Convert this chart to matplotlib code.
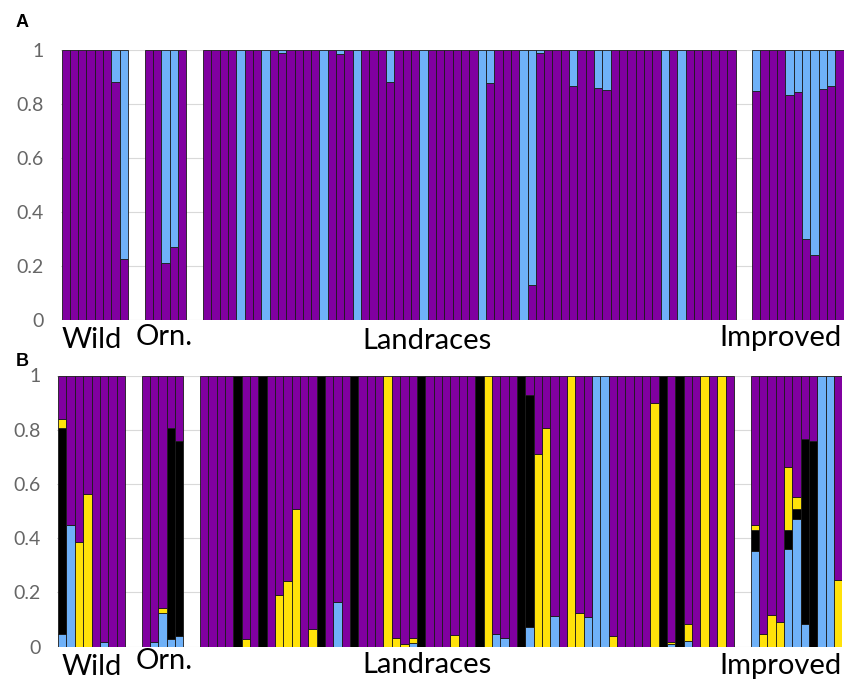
import matplotlib
matplotlib.use("Agg")
import matplotlib.pyplot as plt
import numpy as np

# groups of accessions, in plotting order
groups = ["Wild", "Orn.", "Landraces", "Improved"]

# panel A (K=2): light-blue share per accession, purple is the rest
a_blue_wild = [0, 0, 0, 0, 0, 0, 0.12, 0.775]
a_blue_orn = [0, 0, 0.788, 0.73, 0]
a_blue_land = [0, 0, 0, 0, 1, 0, 0, 1,
               0, 0.01, 0, 0, 0, 0, 1, 0,
               0.015, 0, 1, 0, 0, 0, 0.12, 0,
               0, 0, 1, 0, 0, 0, 0, 0,
               0, 1, 0.123, 0, 0, 0, 1, 0.87,
               0.01, 0, 0, 0, 0.133, 0, 0, 0.142,
               0.147, 0, 0, 0, 0, 0, 0, 1,
               0, 1, 0, 0, 0, 0, 0, 0]
a_blue_impr = [0.152, 0, 0, 0, 0.168, 0.154, 0.70, 0.76, 0.144, 0.135, 0]

# panel B (K=4): blue, black, yellow shares, purple is the rest
b_blue_wild = [0.045, 0.45, 0, 0, 0, 0.016, 0, 0]
b_black_wild = [0.762, 0, 0, 0, 0, 0, 0, 0]
b_yellow_wild = [0.032, 0, 0.385, 0.564, 0, 0, 0, 0]

b_blue_orn = [0, 0.016, 0.125, 0.027, 0.039]
b_black_orn = [0, 0, 0, 0.778, 0.718]
b_yellow_orn = [0, 0, 0.019, 0, 0]

b_blue_land = [0, 0, 0, 0, 0, 0, 0, 0,
               0, 0, 0, 0, 0, 0, 0, 0,
               0.166, 0, 0, 0, 0, 0, 0, 0,
               0, 0.015, 0, 0, 0, 0, 0, 0,
               0, 0, 0, 0.045, 0.031, 0, 0, 0.074,
               0, 0, 0.114, 0, 0, 0, 0.108, 1,
               1, 0, 0, 0, 0, 0, 0, 0,
               0.009, 0, 0.021, 0, 0, 0, 0, 0]
b_black_land = [0, 0, 0, 0, 1, 0, 0, 1,
                0, 0, 0, 0, 0, 0, 1, 0,
                0, 0, 1, 0, 0, 0, 0, 0,
                0, 0, 1, 0, 0, 0, 0, 0,
                0, 1, 0, 0, 0, 0, 1, 0.855,
                0, 0, 0, 0, 0, 0, 0, 0,
                0, 0, 0, 0, 0, 0, 0, 1,
                0, 1, 0, 0, 0, 0, 0, 0]
b_yellow_land = [0, 0, 0, 0, 0, 0.027, 0, 0,
                 0, 0.19, 0.242, 0.508, 0, 0.064, 0, 0,
                 0, 0, 0, 0, 0, 0, 1, 0.033,
                 0.009, 0.018, 0, 0, 0, 0, 0.043, 0,
                 0, 0, 1, 0, 0, 0, 0, 0,
                 0.71, 0.808, 0, 0, 1, 0.123, 0, 0,
                 0, 0.039, 0, 0, 0, 0, 0.897, 0,
                 0.008, 0, 0.064, 0, 1, 0, 1, 0]

b_blue_impr = [0.354, 0, 0, 0, 0.359, 0.47, 0.082, 0, 1, 1, 0]
b_black_impr = [0.076, 0, 0, 0, 0.071, 0.039, 0.683, 0.76, 0, 0, 0]
b_yellow_impr = [0.017, 0.047, 0.118, 0.09, 0.232, 0.044, 0, 0, 0, 0, 0.245]

PURPLE = "#8000a0"
BLUE = "#6fb1f8"
BLACK = "#000000"
YELLOW = "#ffe20a"

FONT = ["Lato", "DejaVu Sans"]
W, H = 845, 682
GAP = 2  # empty slots between groups


def slot_positions(sizes):
    pos = []
    start = 0
    for n in sizes:
        pos.extend(range(start, start + n))
        start += n + GAP
    return np.array(pos), start - GAP


def draw_stack(ax, x, parts):
    # parts: list of (values, colour) from bottom to top
    bottom = np.zeros(len(x))
    for vals, col in parts:
        vals = np.asarray(vals, dtype=float)
        m = vals > 0
        ax.bar(x[m], vals[m], bottom=bottom[m], width=1.0, color=col,
               edgecolor="#1a1a1a", linewidth=0.6, zorder=3)
        bottom = bottom + vals


def style_axis(ax, nslots):
    ax.set_xlim(-0.6, nslots - 0.5)
    ax.set_ylim(0, 1)
    ax.set_yticks([0, 0.2, 0.4, 0.6, 0.8, 1])
    ax.set_yticklabels(["0", "0.2", "0.4", "0.6", "0.8", "1"])
    ax.set_xticks([])
    ax.tick_params(axis="y", length=0, pad=12, labelsize=14, labelcolor="#666666")
    for lab in ax.get_yticklabels():
        lab.set_family(FONT)
    ax.grid(axis="y", color="#d9d9d9", linewidth=0.8, zorder=0)
    for s in ax.spines.values():
        s.set_visible(False)


fig = plt.figure(figsize=(W / 100, H / 100), dpi=100)

# ---- panel A
sizes = [len(a_blue_wild), len(a_blue_orn), len(a_blue_land), len(a_blue_impr)]
x, nslots = slot_positions(sizes)
blue_a = np.concatenate([a_blue_wild, a_blue_orn, a_blue_land, a_blue_impr])
purple_a = 1 - blue_a

axA = fig.add_axes([60.7 / W, 1 - 320 / H, 783 / W, 270 / H])
draw_stack(axA, x, [(purple_a, PURPLE), (blue_a, BLUE)])
style_axis(axA, nslots)

# ---- panel B
blue_b = np.concatenate([b_blue_wild, b_blue_orn, b_blue_land, b_blue_impr])
black_b = np.concatenate([b_black_wild, b_black_orn, b_black_land, b_black_impr])
yellow_b = np.concatenate([b_yellow_wild, b_yellow_orn, b_yellow_land, b_yellow_impr])
purple_b = np.clip(1 - blue_b - black_b - yellow_b, 0, None)

axB = fig.add_axes([57.3 / W, 1 - 646.7 / H, 785 / W, 271.2 / H])
draw_stack(axB, x, [(blue_b, BLUE), (black_b, BLACK), (yellow_b, YELLOW), (purple_b, PURPLE)])
style_axis(axB, nslots)

# group labels under each panel
label_x = [92, 164, 427, 781]
base_a = [348, 345, 349, 346]
base_b = [675, 669, 673, 674]
for name, lx, ya, yb in zip(groups, label_x, base_a, base_b):
    fig.text(lx / W, 1 - ya / H, name, ha="center", va="baseline",
             fontsize=21, family=FONT, color="black")
    fig.text(lx / W, 1 - yb / H, name, ha="center", va="baseline",
             fontsize=21, family=FONT, color="black")

fig.text(16 / W, 1 - 27 / H, "A", fontsize=13, fontweight="bold", family="Liberation Sans")
fig.text(16 / W, 1 - 366 / H, "B", fontsize=13, fontweight="bold", family="Liberation Sans")

fig.savefig("out.png", dpi=100)
